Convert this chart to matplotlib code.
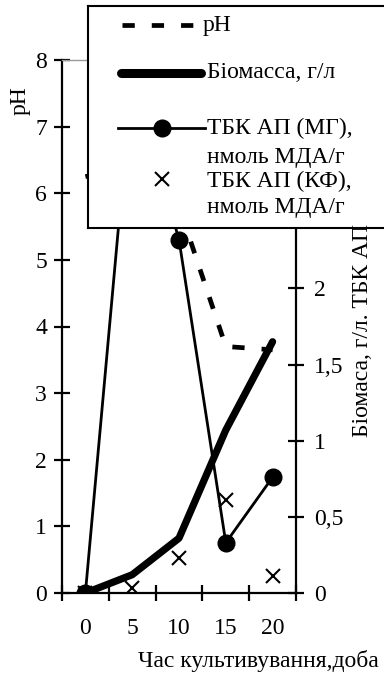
import matplotlib
matplotlib.use("Agg")
import matplotlib.pyplot as plt

plt.rcParams['font.family'] = ['Liberation Serif', 'DejaVu Serif']

# Data
days = [0, 5, 10, 15, 20]
ph = [6.25, 6.4, 5.8, 3.7, 3.65]
biomass = [0, 0.12, 0.36, 1.07, 1.65]
tbk_mg = [0, 3.4, 2.32, 0.33, 0.76]
tbk_kf = [0, 0.03, 0.23, 0.61, 0.11]

left_ticks = list(range(0, 9))
right_ticks = [0, 0.5, 1, 1.5, 2, 2.5, 3, 3.5]
# upper labels sit under the legend box in the original, so left blank
right_labels = ['0', '0,5', '1', '1,5', '2', '', '', '']

W, H = 384, 674
fs = 17
fig = plt.figure(figsize=(W / 100, H / 100), dpi=100)

# plot area in pixels: x 62..296, y 60..593
ax = fig.add_axes([62 / W, 1 - 593 / H, 234 / W, 533 / H])
ax2 = ax.twinx()

ph_style = dict(color='black', lw=3.4, linestyle=(0, (2.6, 3.6)), dash_capstyle='butt')
bio_style = dict(color='black', lw=5.2, solid_capstyle='round', solid_joinstyle='round')
mg_style = dict(color='black', lw=2.0, marker='o', markersize=12)
kf_style = dict(color='black', lw=0, marker='x', markersize=10, markeredgewidth=1.5)

ax.plot(days, ph, **ph_style)
ax2.plot(days, biomass, **bio_style)
ax2.plot(days, tbk_mg, **mg_style)
ax2.plot(days, tbk_kf, **kf_style)

ax.set_xlim(-2.5, 22.5)
ax.set_ylim(0, 8)
ax2.set_ylim(0, 3.5)

ax.set_xticks(days)
ax.set_xticks([-2.5, 2.5, 7.5, 12.5, 17.5, 22.5], minor=True)
ax.tick_params(axis='x', which='major', length=0, pad=18, labelsize=fs)
ax.tick_params(axis='x', which='minor', direction='inout', length=11, width=1.6)
ax.set_yticks(left_ticks)
ax.tick_params(axis='y', direction='inout', length=11.5, width=1.6, pad=5, labelsize=fs)
ax2.set_yticks(right_ticks)
ax2.set_yticklabels(right_labels)
ax2.tick_params(axis='y', direction='inout', length=11.5, width=1.6, pad=7, labelsize=fs)

for s in ['left', 'bottom']:
    ax.spines[s].set_linewidth(1.6)
ax.spines['right'].set_visible(False)
ax.spines['top'].set_color('#999999')
ax.spines['top'].set_linewidth(1.0)
ax2.spines['left'].set_visible(False)
ax2.spines['bottom'].set_visible(False)
ax2.spines['top'].set_visible(False)
ax2.spines['right'].set_linewidth(1.6)

fig.text(20 / W, 1 - 101 / H, 'pH', rotation=90, ha='center', va='center', fontsize=fs)
fig.text(362 / W, 1 - 437 / H, 'Біомаса, г/л. ТБК АП', rotation=90,
         ha='center', va='bottom', fontsize=fs)
fig.text(258 / W, 1 - 661 / H, 'Час культивування,доба', ha='center', va='center', fontsize=fs)

# legend box, drawn in pixel coordinates over the chart
lg = fig.add_axes([88 / W, 1 - 228 / H, 400 / W, 222 / H])
lg.set_xlim(88, 488)
lg.set_ylim(228, 6)
lg.set_xticks([])
lg.set_yticks([])
for s in lg.spines.values():
    s.set_linewidth(1.5)

lg.plot([122, 193], [25, 25], **ph_style)
lg.plot([121, 201], [73, 73], color='black', lw=6.5, solid_capstyle='round')
lg.plot([118, 162, 205], [128, 128, 128], **mg_style, markevery=[1])
lg.plot([162], [179], **kf_style)

tx = 207
lg.text(tx - 4, 25, 'pH', va='center', ha='left', fontsize=fs)
lg.text(tx, 73, 'Біомасса, г/л', va='center', ha='left', fontsize=fs)
lg.text(tx, 128, 'ТБК АП (МГ),', va='center', ha='left', fontsize=fs)
lg.text(tx, 158, 'нмоль МДА/г', va='center', ha='left', fontsize=fs)
lg.text(tx, 181, 'ТБК АП (КФ),', va='center', ha='left', fontsize=fs)
lg.text(tx, 207, 'нмоль МДА/г', va='center', ha='left', fontsize=fs)

fig.savefig('out.png', dpi=100)
